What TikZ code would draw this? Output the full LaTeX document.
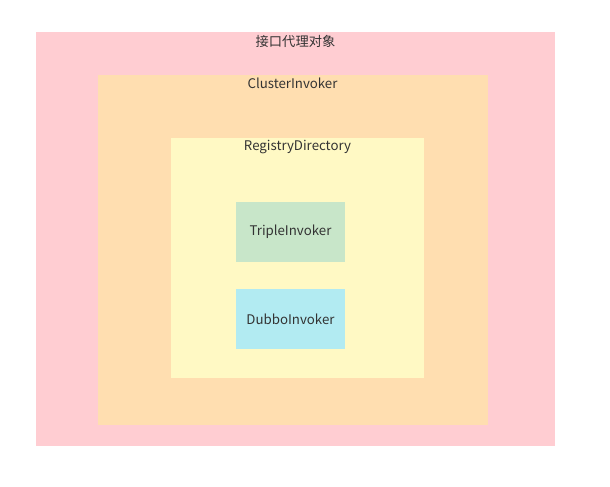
\documentclass[tikz,border=0pt]{standalone}
\usepackage{fontspec}
\setmainfont{Noto Sans CJK SC}
\usepackage{tikz}
\usetikzlibrary{positioning}
\definecolor{proxypink}{HTML}{FFCDD2}
\definecolor{clusterorange}{HTML}{FFDEB0}
\definecolor{diryellow}{HTML}{FFF9C4}
\definecolor{triplegreen}{HTML}{C8E6C9}
\definecolor{dubboblue}{HTML}{B2EBF2}
\definecolor{labelgray}{HTML}{333333}
\tikzset{every picture/.style={
  font=\fontsize{9.95pt}{11pt}\selectfont % Text size of the labels.
  }
}

\begin{document}
\begin{tikzpicture}[
        x=0.75pt, y=-0.75pt,
        layer/.style={
          fill=#1,
          draw=none,
          inner sep=0pt
        },
        tag/.style={
          text=labelgray,
          inner sep=1pt
        }]

        \useasboundingbox (0,0) rectangle (610,486);

        % Nested boxes, outermost first.
        \node[layer=proxypink,     minimum width=519*0.75pt, minimum height=414*0.75pt] (proxy)   at (295.5,239)   {};
        \node[layer=clusterorange, minimum width=390*0.75pt, minimum height=350*0.75pt] (cluster) at (292.5,250)   {};
        \node[layer=diryellow,     minimum width=253*0.75pt, minimum height=240*0.75pt] (dir)     at (297.5,257.5) {};

        % Invokers.
        \node[layer=triplegreen, text=labelgray, minimum width=109*0.75pt, minimum height=60*0.75pt] (triple) at (290.5,232) {TripleInvoker};
        \node[layer=dubboblue,   text=labelgray, minimum width=109*0.75pt, minimum height=60*0.75pt] (dubbo)  at (290.5,319) {DubboInvoker};

        % Add Labels.
        \node[tag, below=1.2pt of proxy.north]   (proxylabel)   {接口代理对象};
        \node[tag, below=1.2pt of cluster.north] (clusterlabel) {ClusterInvoker};
        \node[tag, below=1.2pt of dir.north]     (dirlabel)     {RegistryDirectory};
      \end{tikzpicture}
\end{document}
